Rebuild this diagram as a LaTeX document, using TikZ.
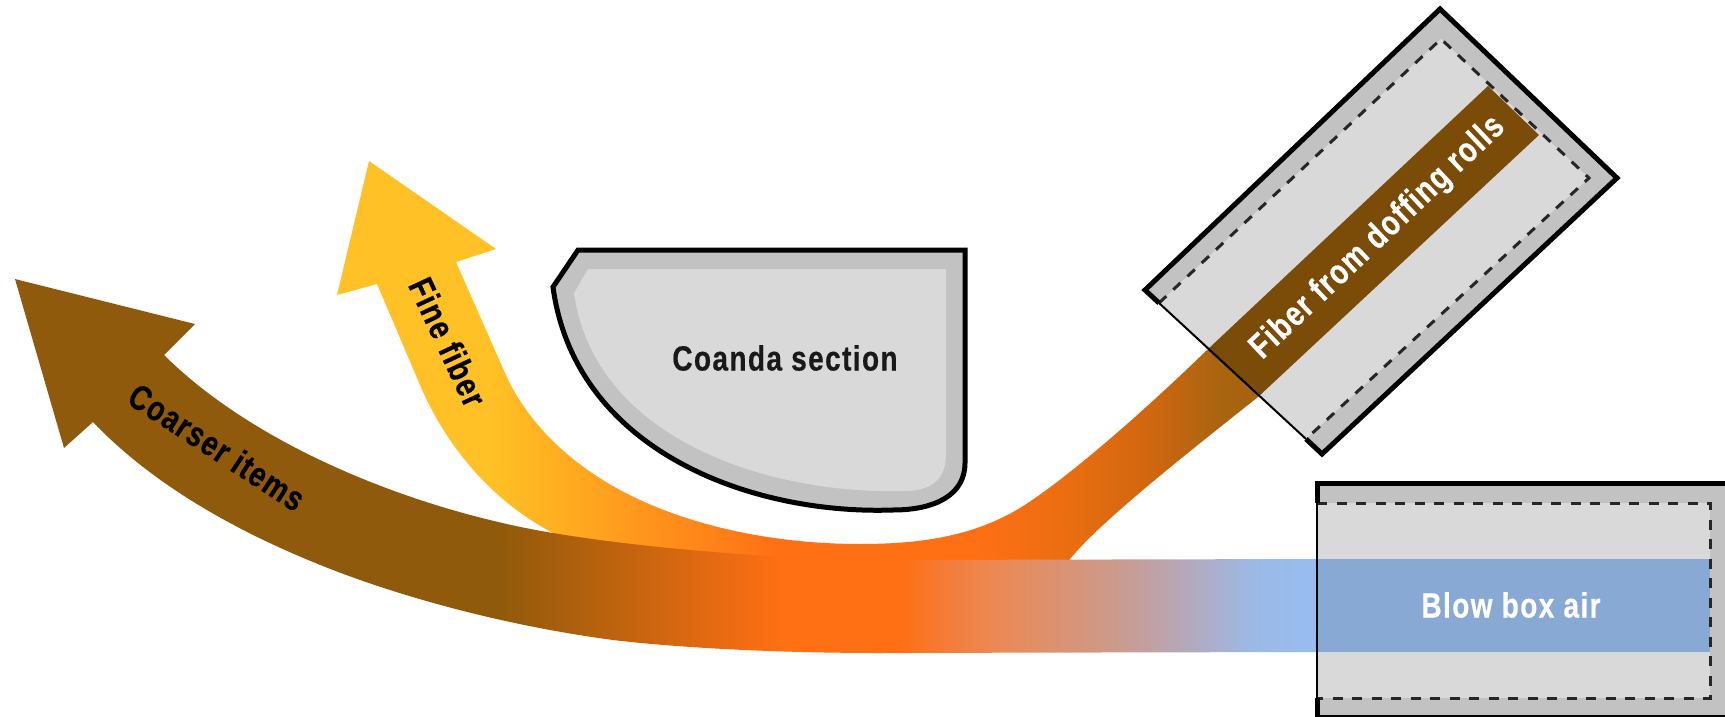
\documentclass[tikz,border=0pt]{standalone}
\usepackage{fontspec}
\newfontfamily\labfont[FakeStretch=0.8,LetterSpace=4,FakeBold=0.5]{Liberation Sans Bold}
\definecolor{cbrown}{HTML}{8F5A0B}
\definecolor{corange}{HTML}{FF6F14}
\definecolor{cyellow}{HTML}{FFC125}
\definecolor{cblue}{HTML}{98BCEE}
\definecolor{boxdark}{HTML}{C2C2C2}
\definecolor{boxlight}{HTML}{D9D9D9}
\definecolor{ribbonblue}{HTML}{89A9D5}
\definecolor{ribbonbrown}{HTML}{7A4C08}
\definecolor{inka}{HTML}{F08040}
\definecolor{inkaa}{HTML}{EE8850}
\definecolor{inkb}{HTML}{CC9A8C}
\definecolor{inkc}{HTML}{B5A8BC}
\definecolor{inkd}{HTML}{9CB9E6}
\definecolor{inke}{HTML}{E96E10}
\definecolor{inkg}{HTML}{CF6610}
\definecolor{inkf}{HTML}{A9640F}
\definecolor{inkh}{HTML}{A06010}
\pgfdeclarehorizontalshading{mainflow}{100bp}{color(0bp)=(cbrown); color(39.4bp)=(cbrown); color(47.6bp)=(corange); color(51.1bp)=(corange); color(52.8bp)=(inka); color(53.6bp)=(inkaa); color(57.3bp)=(inkb); color(59.4bp)=(inkc); color(61.3bp)=(inkd); color(62.7bp)=(cblue); color(100bp)=(cblue)}
\pgfdeclarehorizontalshading{fineflow}{100bp}{color(0bp)=(cyellow); color(39.2bp)=(cyellow); color(47.6bp)=(corange); color(53.4bp)=(corange); color(56.0bp)=(inke); color(58.4bp)=(inkg); color(60.4bp)=(inkf); color(62.7bp)=(inkh); color(100bp)=(inkh)}
\tikzset{
  thickline/.style={draw=black,line width=5pt,line join=miter},
  thinline/.style={draw=black,line width=2pt},
  dashline/.style={draw=black!85,line width=3pt,dash pattern=on 10pt off 9.5pt},
  label/.style={font=\labfont\fontsize{35}{35}\selectfont,inner sep=0pt},
}
\begin{document}
\begin{tikzpicture}[x=1pt,y=-1pt]
\useasboundingbox (0,0) rectangle (1725,717);
% doffing box
\fill[boxdark] (1145,290) -- (1440,9) -- (1617,178) -- (1322,454) -- cycle;
\fill[boxlight] (1159,303) -- (1441,39) -- (1589,178) -- (1306,439) -- cycle;
\fill[ribbonbrown] (1207,350) -- (1488,86) -- (1539,135) -- (1258,397) -- cycle;
\draw[dashline] (1159,303) -- (1441,39) -- (1589,178) -- (1306,439);
% blow box
\begin{scope}
\clip (0,0) rectangle (1725,717);
\fill[boxdark] (1317,483) rectangle (1725,717);
\fill[boxlight] (1317,503) rectangle (1710,698);
\fill[ribbonblue] (1317,559) rectangle (1710,652);
\draw[dashline] (1317,503) -- (1710,503) -- (1710,698) -- (1317,698);
\draw[thickline] (1317,503) -- (1317,483) -- (1725,483);
\draw[thickline] (1317,698) -- (1317,717) -- (1725,717);
\end{scope}
% fine + doffing flow
\begin{scope}
\clip (456,262) -- (496,249) -- (369,161) -- (337,295) -- (377,284) -- (420,385)
  .. controls (445,444) and (490,500) .. (553,533)
  -- (620,580) -- (1070,600) -- (1070,559)
  .. controls (1100,522) and (1185,455) .. (1258,397)
  -- (1207,350)
  .. controls (1140,415) and (1065,480) .. (1020,508)
  .. controls (975,535) and (925,544) .. (860,544)
  .. controls (790,544) and (710,532) .. (640,500)
  .. controls (575,470) and (528,425) .. (505,373)
  -- cycle;
\shade[shading=fineflow] (0,0) rectangle (1725,717);
\end{scope}
% main flow
\begin{scope}
\clip (1317,559) -- (903,560)
  .. controls (780,560) and (640,548) .. (547,532)
  .. controls (420,510) and (260,450) .. (164,355)
  -- (195,324) -- (15,279) -- (64,448) -- (93,422)
  .. controls (150,482) and (230,528) .. (313,562)
  .. controls (390,594) and (500,625) .. (613,640)
  .. controls (680,648) and (780,653) .. (880,653)
  -- (1317,652) -- cycle;
\shade[shading=mainflow] (0,0) rectangle (1725,717);
\end{scope}
% outlines over flows
\draw[thinline] (1159,303) -- (1306,439);
\draw[thickline] (1159,303) -- (1145,290) -- (1440,9) -- (1617,178) -- (1322,454) -- (1306,439);
\draw[thinline] (1317,503) -- (1317,698);
% Coanda section
\path[fill=boxdark,thickline] (578,250) -- (965,250) -- (965,463)
  .. controls (965,495) and (935,510) .. (893,510)
  .. controls (750,515) and (575,450) .. (553,287)
  -- cycle;
\path[fill=boxlight] (588,269) -- (946,269) -- (946,455)
  .. controls (946,480) and (930,491) .. (905,491)
  .. controls (770,495) and (595,440) .. (574,293)
  -- cycle;
% labels
\node[label,text=black!90] (coanda) at (785,358) {Coanda section};
\node[label,text=white] (blow) at (1511,605) {Blow box air};
\node[label,text=white,rotate=43.5] (doff) at (1378,238) {Fiber from doffing rolls};
\node[label,text=black,rotate=-33] (coarse) at (217,447) {Coarser items};
\node[label,text=black,rotate=-65] (fine) at (448,342) {Fine fiber};
\end{tikzpicture}
\end{document}
